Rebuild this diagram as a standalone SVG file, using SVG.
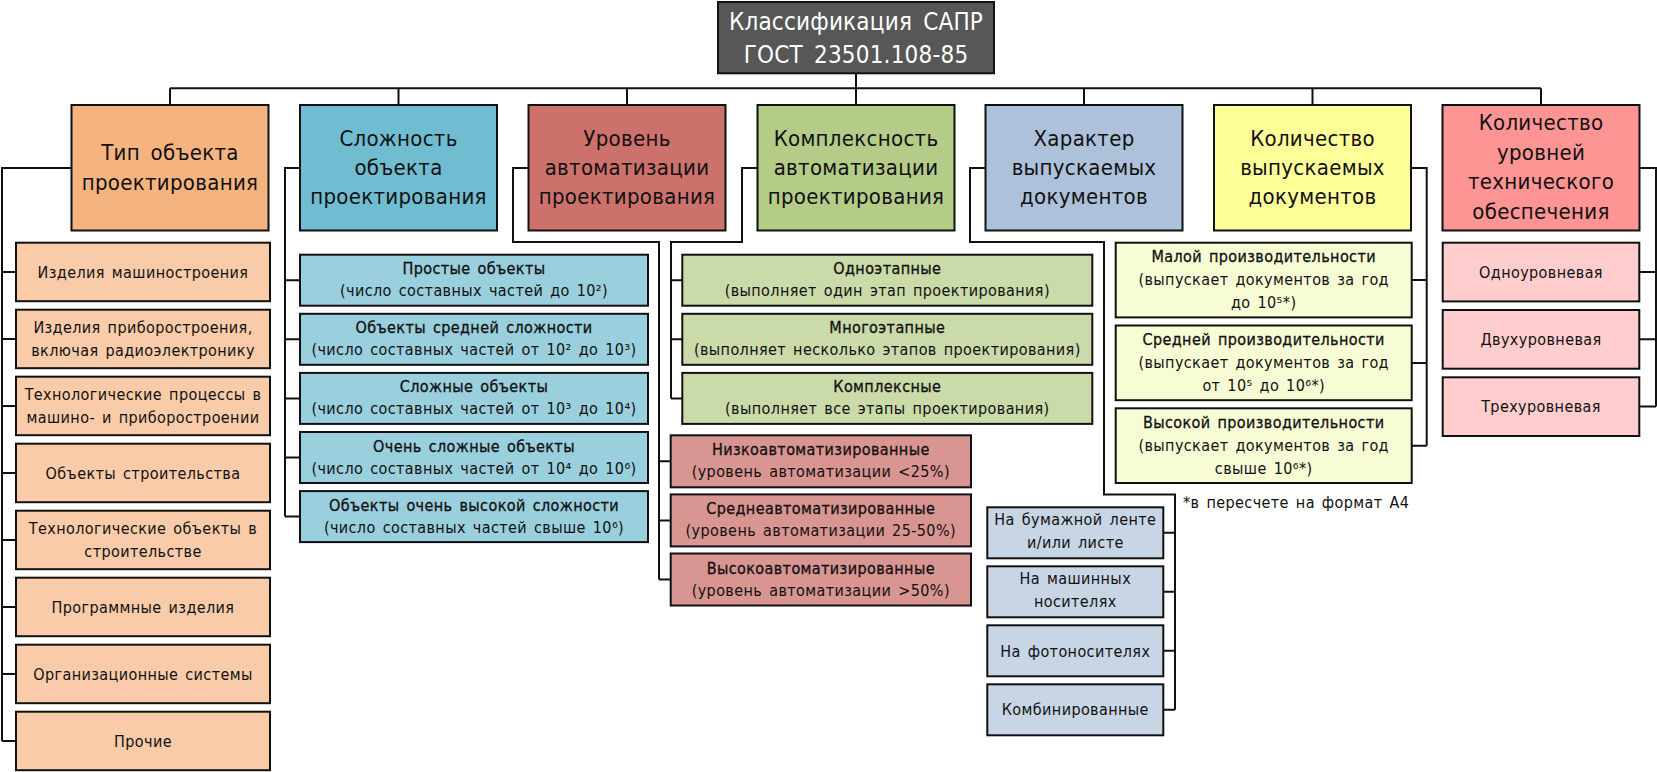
<svg xmlns="http://www.w3.org/2000/svg" width="1657" height="772" viewBox="0 0 1657 772">
<style>
text{font-family:"DejaVu Sans Condensed","DejaVu Sans","Liberation Sans",sans-serif;font-stretch:condensed;fill:#111;text-anchor:middle;}
.b{stroke:#111;stroke-width:2;}
.hd{font-size:24px;fill:#fff;letter-spacing:0.2px;word-spacing:4px;}
.cat{font-size:22px;letter-spacing:0.3px;word-spacing:4px;}
.ch{font-size:16px;letter-spacing:0.4px;word-spacing:2px;}
.t{stroke:#111;stroke-width:0.3;}
.fn{text-anchor:start;}
.ln{fill:none;stroke:#111;stroke-width:2;}
.c0{fill:#F5B47F}.d0{fill:#F9CBA8}
.c1{fill:#70BDD1}.d1{fill:#9ACFDE}
.c2{fill:#CC716C}.d2{fill:#D99592}
.c3{fill:#B5CB88}.d3{fill:#CBDAA9}
.c4{fill:#AEC1DA}.d4{fill:#C8D5E5}
.c5{fill:#FEFE99}.d5{fill:#F8FCD5}
.c6{fill:#FE9494}.d6{fill:#FFCDCD}
</style>
<rect width="1657" height="772" fill="#fff"/>
<g id="connectors">
<path class="ln" d="M856,73.3V88.3M170,88.3H1541M170,88.3V105M398.5,88.3V105M627,88.3V105M856,88.3V105M1084,88.3V105M1312.5,88.3V105M1541,88.3V105"/>
<path class="ln" d="M71.5,168H2V741M2,272H16M2,339H16M2,406H16M2,473H16M2,540H16M2,607H16M2,674H16M2,741H16"/>
<path class="ln" d="M300,168H285V516.6M285,280.2H300M285,339.3H300M285,398.4H300M285,457.5H300M285,516.6H300"/>
<path class="ln" d="M528.5,168H513V242H659V579.5M659,461.3H670.7M659,520.4H670.7M659,579.5H670.7"/>
<path class="ln" d="M757.5,168H742V242H671V398.4M671,280.2H682.3M671,339.3H682.3M671,398.4H682.3"/>
<path class="ln" d="M985.5,168H970V242H1104V494.5H1175V709.8M1175,532.8H1163.3M1175,591.8H1163.3M1175,650.8H1163.3M1175,709.8H1163.3"/>
<path class="ln" d="M1411,168H1426.7V445.7M1426.7,280H1411.7M1426.7,362.9H1411.7M1426.7,445.7H1411.7"/>
<path class="ln" d="M1639.5,168H1656V406.6M1656,272H1639.3M1656,339.3H1639.3M1656,406.6H1639.3"/>
</g>
<g id="root">
<rect class="b" x="718" y="2" width="276" height="71.3" fill="#575757"/>
<text class="hd" x="856" y="30">Классификация САПР</text>
<text class="hd" x="856" y="63">ГОСТ 23501.108-85</text>
</g>
<g id="cat-type">
<rect class="b c0" x="71.5" y="105" width="197" height="125.5"/>
<text class="cat" x="170" y="160">Тип объекта</text>
<text class="cat" x="170" y="189.5">проектирования</text>
</g>
<g id="cat-complexity">
<rect class="b c1" x="300" y="105" width="197" height="125.5"/>
<text class="cat" x="398.5" y="145.5">Сложность</text>
<text class="cat" x="398.5" y="174.5">объекта</text>
<text class="cat" x="398.5" y="203.5">проектирования</text>
</g>
<g id="cat-automation">
<rect class="b c2" x="528.5" y="105" width="197" height="125.5"/>
<text class="cat" x="627" y="145.5">Уровень</text>
<text class="cat" x="627" y="174.5">автоматизации</text>
<text class="cat" x="627" y="203.5">проектирования</text>
</g>
<g id="cat-integration">
<rect class="b c3" x="757.5" y="105" width="197" height="125.5"/>
<text class="cat" x="856" y="145.5">Комплексность</text>
<text class="cat" x="856" y="174.5">автоматизации</text>
<text class="cat" x="856" y="203.5">проектирования</text>
</g>
<g id="cat-docs-type">
<rect class="b c4" x="985.5" y="105" width="197" height="125.5"/>
<text class="cat" x="1084" y="145.5">Характер</text>
<text class="cat" x="1084" y="174.5">выпускаемых</text>
<text class="cat" x="1084" y="203.5">документов</text>
</g>
<g id="cat-docs-count">
<rect class="b c5" x="1214" y="105" width="197" height="125.5"/>
<text class="cat" x="1312.5" y="145.5">Количество</text>
<text class="cat" x="1312.5" y="174.5">выпускаемых</text>
<text class="cat" x="1312.5" y="203.5">документов</text>
</g>
<g id="cat-levels">
<rect class="b c6" x="1442.5" y="105" width="197" height="125.5"/>
<text class="cat" x="1541" y="130">Количество</text>
<text class="cat" x="1541" y="159.5">уровней</text>
<text class="cat" x="1541" y="189">технического</text>
<text class="cat" x="1541" y="218.5">обеспечения</text>
</g>
<g id="type-children">
<g id="type-1"><rect class="b d0" x="16" y="242.7" width="254" height="58.5"/><text class="ch" x="143" y="277.7">Изделия машиностроения</text></g>
<g id="type-2"><rect class="b d0" x="16" y="309.7" width="254" height="58.5"/><text class="ch" x="143" y="333">Изделия приборостроения,</text><text class="ch" x="143" y="356">включая радиоэлектронику</text></g>
<g id="type-3"><rect class="b d0" x="16" y="376.7" width="254" height="58.5"/><text class="ch" x="143" y="400">Технологические процессы в</text><text class="ch" x="143" y="423">машино- и приборостроении</text></g>
<g id="type-4"><rect class="b d0" x="16" y="443.7" width="254" height="58.5"/><text class="ch" x="143" y="478.7">Объекты строительства</text></g>
<g id="type-5"><rect class="b d0" x="16" y="510.7" width="254" height="58.5"/><text class="ch" x="143" y="534">Технологические объекты в</text><text class="ch" x="143" y="557">строительстве</text></g>
<g id="type-6"><rect class="b d0" x="16" y="577.7" width="254" height="58.5"/><text class="ch" x="143" y="612.7">Программные изделия</text></g>
<g id="type-7"><rect class="b d0" x="16" y="644.7" width="254" height="58.5"/><text class="ch" x="143" y="679.7">Организационные системы</text></g>
<g id="type-8"><rect class="b d0" x="16" y="711.7" width="254" height="58.5"/><text class="ch" x="143" y="746.7">Прочие</text></g>
</g>
<g id="complexity-children">
<g id="cx-1"><rect class="b d1" x="300" y="254.7" width="348" height="51"/><text class="ch t" x="474" y="274.2">Простые объекты</text><text class="ch" x="474" y="296.2">(число составных частей до 10²)</text></g>
<g id="cx-2"><rect class="b d1" x="300" y="313.8" width="348" height="51"/><text class="ch t" x="474" y="333.3">Объекты средней сложности</text><text class="ch" x="474" y="355.3">(число составных частей от 10² до 10³)</text></g>
<g id="cx-3"><rect class="b d1" x="300" y="372.9" width="348" height="51"/><text class="ch t" x="474" y="392.4">Сложные объекты</text><text class="ch" x="474" y="414.4">(число составных частей от 10³ до 10⁴)</text></g>
<g id="cx-4"><rect class="b d1" x="300" y="432" width="348" height="51"/><text class="ch t" x="474" y="451.5">Очень сложные объекты</text><text class="ch" x="474" y="473.5">(число составных частей от 10⁴ до 10⁶)</text></g>
<g id="cx-5"><rect class="b d1" x="300" y="491.1" width="348" height="51"/><text class="ch t" x="474" y="510.6">Объекты очень высокой сложности</text><text class="ch" x="474" y="532.6">(число составных частей свыше 10⁶)</text></g>
</g>
<g id="integration-children">
<g id="in-1"><rect class="b d3" x="682.3" y="254.7" width="410" height="51"/><text class="ch t" x="887.3" y="274.2">Одноэтапные</text><text class="ch" x="887.3" y="296.2">(выполняет один этап проектирования)</text></g>
<g id="in-2"><rect class="b d3" x="682.3" y="313.8" width="410" height="51"/><text class="ch t" x="887.3" y="333.3">Многоэтапные</text><text class="ch" x="887.3" y="355.3">(выполняет несколько этапов проектирования)</text></g>
<g id="in-3"><rect class="b d3" x="682.3" y="372.9" width="410" height="51"/><text class="ch t" x="887.3" y="392.4">Комплексные</text><text class="ch" x="887.3" y="414.4">(выполняет все этапы проектирования)</text></g>
</g>
<g id="automation-children">
<g id="au-1"><rect class="b d2" x="670.7" y="435.3" width="300.3" height="52"/><text class="ch t" x="820.8" y="455.3">Низкоавтоматизированные</text><text class="ch" x="820.8" y="477.3">(уровень автоматизации &lt;25%)</text></g>
<g id="au-2"><rect class="b d2" x="670.7" y="494.4" width="300.3" height="52"/><text class="ch t" x="820.8" y="514.4">Среднеавтоматизированные</text><text class="ch" x="820.8" y="536.4">(уровень автоматизации 25-50%)</text></g>
<g id="au-3"><rect class="b d2" x="670.7" y="553.5" width="300.3" height="52"/><text class="ch t" x="820.8" y="573.5">Высокоавтоматизированные</text><text class="ch" x="820.8" y="595.5">(уровень автоматизации &gt;50%)</text></g>
</g>
<g id="docs-type-children">
<g id="dt-1"><rect class="b d4" x="987.3" y="507.3" width="176" height="51"/><text class="ch" x="1075.3" y="525.3">На бумажной ленте</text><text class="ch" x="1075.3" y="548.3">и/или листе</text></g>
<g id="dt-2"><rect class="b d4" x="987.3" y="566.3" width="176" height="51"/><text class="ch" x="1075.3" y="584.3">На машинных</text><text class="ch" x="1075.3" y="607.3">носителях</text></g>
<g id="dt-3"><rect class="b d4" x="987.3" y="625.3" width="176" height="51"/><text class="ch" x="1075.3" y="656.5">На фотоносителях</text></g>
<g id="dt-4"><rect class="b d4" x="987.3" y="684.3" width="176" height="51"/><text class="ch" x="1075.3" y="715.3">Комбинированные</text></g>
</g>
<g id="docs-count-children">
<g id="dc-1"><rect class="b d5" x="1115.7" y="242.7" width="296" height="74.7"/><text class="ch t" x="1263.7" y="262.3">Малой производительности</text><text class="ch" x="1263.7" y="285">(выпускает документов за год</text><text class="ch" x="1263.7" y="308">до 10⁵*)</text></g>
<g id="dc-2"><rect class="b d5" x="1115.7" y="325.5" width="296" height="74.7"/><text class="ch t" x="1263.7" y="345.1">Средней производительности</text><text class="ch" x="1263.7" y="367.8">(выпускает документов за год</text><text class="ch" x="1263.7" y="390.8">от 10⁵ до 10⁶*)</text></g>
<g id="dc-3"><rect class="b d5" x="1115.7" y="408.3" width="296" height="74.7"/><text class="ch t" x="1263.7" y="427.9">Высокой производительности</text><text class="ch" x="1263.7" y="450.6">(выпускает документов за год</text><text class="ch" x="1263.7" y="473.6">свыше 10⁶*)</text></g>
</g>
<g id="levels-children">
<g id="lv-1"><rect class="b d6" x="1442.7" y="242.7" width="196.6" height="58.7"/><text class="ch" x="1541" y="277.7">Одноуровневая</text></g>
<g id="lv-2"><rect class="b d6" x="1442.7" y="310" width="196.6" height="58.7"/><text class="ch" x="1541" y="345">Двухуровневая</text></g>
<g id="lv-3"><rect class="b d6" x="1442.7" y="377.3" width="196.6" height="58.7"/><text class="ch" x="1541" y="412.3">Трехуровневая</text></g>
</g>
<g id="footnote">
<text class="ch fn" x="1183" y="507.5">*в пересчете на формат А4</text>
</g>
</svg>
